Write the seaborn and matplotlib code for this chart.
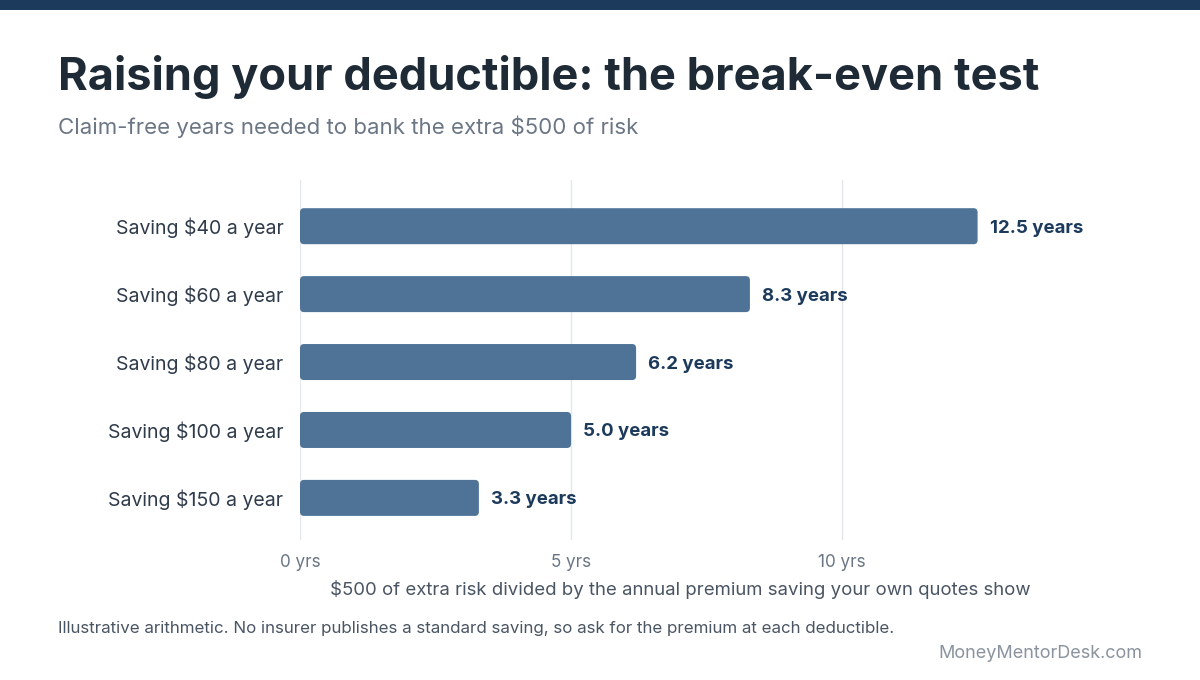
import matplotlib
matplotlib.use("Agg")
import matplotlib.pyplot as plt
import seaborn as sns
import pandas as pd
from matplotlib.patches import FancyBboxPatch, Rectangle

categories = ["Saving $40 a year", "Saving $60 a year", "Saving $80 a year",
              "Saving $100 a year", "Saving $150 a year"]
years = [12.5, 8.3, 6.2, 5.0, 3.3]
value_labels = ["12.5 years", "8.3 years", "6.2 years", "5.0 years", "3.3 years"]
x_ticks = [0, 5, 10]
x_tick_labels = ["0 yrs", "5 yrs", "10 yrs"]

title = "Raising your deductible: the break-even test"
subtitle = "Claim-free years needed to bank the extra $500 of risk"
x_label = "$500 of extra risk divided by the annual premium saving your own quotes show"
footnote = "Illustrative arithmetic. No insurer publishes a standard saving, so ask for the premium at each deductible."
source = "MoneyMentorDesk.com"

sns.set_theme(style="white")
FONT = ["Inter", "DejaVu Sans"]
plt.rcParams["font.family"] = FONT

BAR = "#4e7397"
NAVY = "#1c3a5c"
DARK = "#1e2a36"
GRAY = "#6b7685"

df = pd.DataFrame({"cat": categories, "years": years})

fig = plt.figure(figsize=(12, 6.8), dpi=100)
ax = fig.add_axes([0.25, 1 - 540 / 680, 0.655, 360 / 680])

sns.barplot(data=df, x="years", y="cat", orient="h", color=BAR, width=0.53,
            saturation=1, ax=ax, zorder=3)

# replace bars with rounded versions
for i, p in enumerate(list(ax.patches)):
    x0, y0 = p.get_x(), p.get_y()
    w, h = p.get_width(), p.get_height()
    p.remove()
    fb = FancyBboxPatch((x0, y0), w, h,
                        boxstyle="round,pad=0,rounding_size=0.075",
                        mutation_aspect=0.8, facecolor=BAR, edgecolor="none",
                        zorder=3)
    ax.add_patch(fb)
    idx = int(round(y0 + h / 2))
    ax.text(x0 + w + 0.22, y0 + h / 2, value_labels[idx],
            va="center_baseline", ha="left", fontsize=13.4, fontweight="bold",
            color=NAVY, zorder=4, clip_on=False)

ax.set_xlim(0, 14.5)
ax.set_ylim(4.62, -0.68)
ax.set_xticks(x_ticks)
ax.set_xticklabels(x_tick_labels, fontsize=12.3, color=GRAY)
ax.tick_params(axis="x", length=0, pad=10)
ax.tick_params(axis="y", length=0, pad=12, labelsize=14, labelcolor="#2f3b4a")
ax.grid(axis="x", color="#e3e6ea", linewidth=1, zorder=0)
ax.grid(axis="y", visible=False)
for s in ax.spines.values():
    s.set_visible(False)
ax.set_ylabel("")
ax.set_xlabel(x_label, fontsize=13.4, color="#4a5563", labelpad=6)
ax.xaxis.set_label_coords(0.4835, -0.111)

# top stripe
fig.patches.append(Rectangle((0, 1 - 10 / 680), 1, 10 / 680, transform=fig.transFigure,
                             facecolor=NAVY, edgecolor="none", zorder=10))

fig.text(58 / 1200, 1 - 77 / 680, title, fontsize=32.5, fontweight="bold",
         color=DARK, va="center", ha="left")
fig.text(58 / 1200, 1 - 127 / 680, subtitle, fontsize=16, color=GRAY,
         va="center", ha="left")
fig.text(58 / 1200, 1 - 629 / 680, footnote, fontsize=12.2, color="#4a5563",
         va="center", ha="left")
fig.text(1142 / 1200, 1 - 654 / 680, source, fontsize=13, color="#8a939e",
         va="center", ha="right")

fig.savefig("out.png", dpi=100, facecolor="white")
